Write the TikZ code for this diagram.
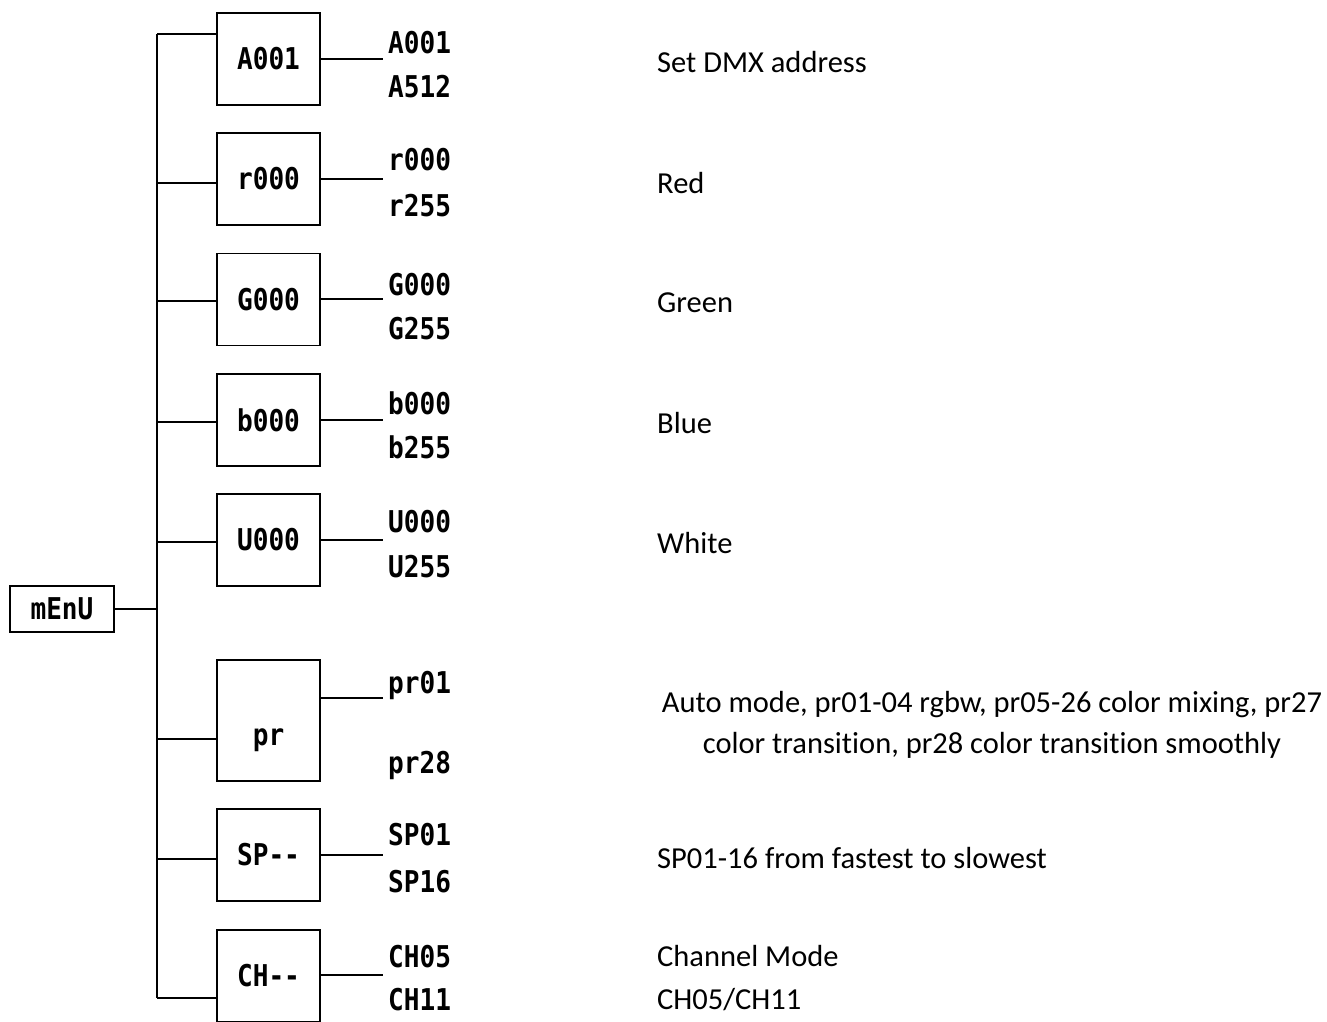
\documentclass[tikz,border=0pt]{standalone}
\usepackage{fontspec}
\setmainfont{Carlito}[Ligatures=NoCommon]
\newfontfamily\lcdfont[FakeStretch=0.87]{DejaVu Sans Mono Bold}

\tikzset{
  mnbox/.style={draw, line width=1.8pt, minimum width=103pt, minimum height=92pt, inner sep=0pt, font=\lcdfont\fontsize{30}{32}\selectfont},
  mnroot/.style={draw, line width=1.8pt, minimum width=104pt, minimum height=46pt, inner sep=0pt, font=\lcdfont\fontsize{30}{32}\selectfont},
  mnval/.style={anchor=west, inner sep=0pt, font=\lcdfont\fontsize{30}{32}\selectfont},
  mndesc/.style={anchor=west, inner sep=0pt, font=\fontsize{30.5}{41}\selectfont},
  mnline/.style={line width=1.8pt}
}

\begin{document}
\begin{tikzpicture}[x=1pt,y=-1pt]
        \useasboundingbox (0,0) rectangle (1327,1021);

        % root and sub menus
        \node[mnroot] (menu) at (62,609) {mEnU};
        \node[mnbox] (adr) at (268.5,59) {A001};
        \node[mnbox] (red) at (268.5,179) {r000};
        \node[mnbox] (grn) at (268.5,299.5) {G000};
        \node[mnbox] (blu) at (268.5,420) {b000};
        \node[mnbox] (wht) at (268.5,540) {U000};
        \node[mnbox, minimum height=121pt, text height=50pt, text depth=0pt] (prg) at (268.5,720.5) {pr};
        \node[mnbox] (spd) at (268.5,855) {SP--};
        \node[mnbox] (chn) at (268.5,976) {CH--};

        % bus
        \coordinate (bustop) at (157,34);
        \coordinate (busbot) at (157,998);
        \draw[mnline] (bustop) -- (busbot);
        \draw[mnline] (menu.east) -- (menu.east -| bustop);
        \foreach \n/\y in {adr/34,red/183,grn/301,blu/422,wht/542,prg/739,spd/859,chn/998} {
            \draw[mnline] (157,\y) -- (\n.west |- 0,\y);
        }

        % value ranges
        \foreach \n/\lo/\hi/\ylo/\yhi/\yl in {adr/A001/A512/43/87/59, red/r000/r255/160/206/179, grn/G000/G255/285/329/299,
            blu/b000/b255/403/447/420, wht/U000/U255/522/567/540, prg/pr01/pr28/685/765/698,
            spd/SP01/SP16/835/882/855, chn/CH05/CH11/957/1000/975} {
            \draw[mnline] (\n.east |- 0,\yl) -- (383,\yl);
            \node[mnval] (\n-lo) at (388,\ylo) {\lo};
            \node[mnval] (\n-hi) at (388,\yhi) {\hi};
        }

        % descriptions
        \node[mndesc] (d-adr) at (657,62) {Set DMX address};
        \node[mndesc] (d-red) at (657,183) {Red};
        \node[mndesc] (d-grn) at (657,303) {Green};
        \node[mndesc] (d-blu) at (657,423) {Blue};
        \node[mndesc] (d-wht) at (657,543) {White};
        \node[mndesc, anchor=center, align=center] (d-prg) at (992,724.5) {Auto mode, pr01-04 rgbw, pr05-26 color mixing, pr27\\color transition, pr28 color transition smoothly};
        \node[mndesc] (d-spd) at (657,858) {SP01-16 from fastest to slowest};
        \node[mndesc] (d-chn) at (657,956) {Channel Mode};
        \node[mndesc] (d-ch2) at (657,1000) {CH05/CH11};
    \end{tikzpicture}
\end{document}
